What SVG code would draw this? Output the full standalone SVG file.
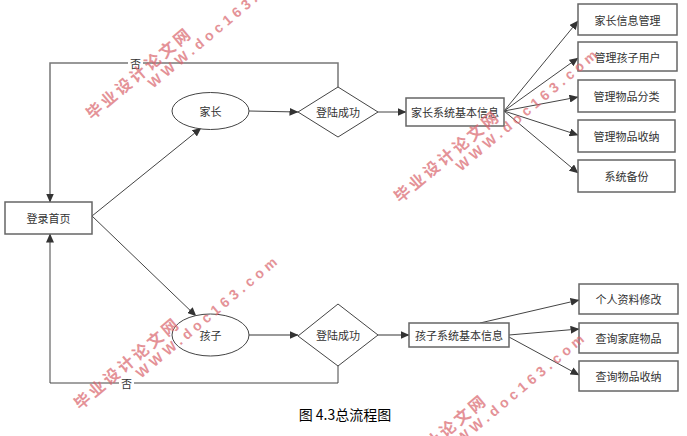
<svg xmlns="http://www.w3.org/2000/svg" xmlns:xlink="http://www.w3.org/1999/xlink" width="687" height="436" viewBox="0 0 687 436">
<style>
.box{fill:#fff;stroke:#666;stroke-width:1.5}
.shape{fill:#fff;stroke:#444;stroke-width:1}
.t{font-family:"Noto Sans CJK SC","Noto Sans CJK JP",sans-serif;font-size:11px;fill:#333;text-anchor:middle;dominant-baseline:central}
.c{stroke:#444;stroke-width:1;fill:none}
.g{stroke:#777;stroke-width:1.5;fill:none}
.wmc{font-family:"Noto Sans CJK SC",sans-serif;font-size:16px;font-weight:bold;fill:#d9646c}
.wme{font-family:"Liberation Sans",sans-serif;font-size:14px;font-weight:bold;fill:#d9646c}
</style>
<defs>
<marker id="ah" markerWidth="9" markerHeight="8" refX="8.5" refY="4" orient="auto" markerUnits="userSpaceOnUse">
<path d="M0,0 L9,4 L0,8 Z" fill="#333"/>
</marker>
<g id="wm" opacity="0.7">
<text class="wmc" x="-9" y="6" textLength="130" lengthAdjust="spacing">毕业设计论文网</text>
<text class="wme" x="58" y="21" textLength="179" lengthAdjust="spacing">WWW.doc163.com</text>
</g>
</defs>
<rect width="687" height="436" fill="#fff"/>

<g id="connectors">
<polyline class="g" points="338,87 338,63 50,63 50,202" marker-end="url(#ah)"/>
<polyline class="c" points="338,366 338,383 50,383 50,234" marker-end="url(#ah)"/>
<line class="c" x1="92" y1="216" x2="201" y2="128" marker-end="url(#ah)"/>
<line class="c" x1="92" y1="216" x2="196" y2="316" marker-end="url(#ah)"/>
<line class="c" x1="249" y1="111" x2="298" y2="112" marker-end="url(#ah)"/>
<line class="c" x1="378" y1="112" x2="406" y2="112" marker-end="url(#ah)"/>
<line class="c" x1="504" y1="111" x2="578" y2="21" marker-end="url(#ah)"/>
<line class="c" x1="504" y1="111" x2="578" y2="58" marker-end="url(#ah)"/>
<line class="c" x1="504" y1="111" x2="578" y2="97" marker-end="url(#ah)"/>
<line class="c" x1="504" y1="111" x2="578" y2="135" marker-end="url(#ah)"/>
<line class="c" x1="504" y1="111" x2="578" y2="173" marker-end="url(#ah)"/>
<line class="g" x1="249" y1="335" x2="298" y2="335" marker-end="url(#ah)"/>
<line class="g" x1="378" y1="335" x2="409" y2="335" marker-end="url(#ah)"/>
<line class="c" x1="480" y1="323" x2="579" y2="300" marker-end="url(#ah)"/>
<line class="c" x1="509" y1="335" x2="579" y2="329" marker-end="url(#ah)"/>
<line class="c" x1="509" y1="337" x2="579" y2="375" marker-end="url(#ah)"/>
<rect x="128" y="56" width="15" height="14" fill="#fff"/>
<text class="t" x="135.5" y="63">否</text>
<rect x="119" y="376" width="15" height="14" fill="#fff"/>
<text class="t" x="126.5" y="383">否</text>
</g>

<g id="login"><rect class="box" x="5" y="202" width="87" height="32"/><text class="t" x="48.5" y="218">登录首页</text></g>
<g id="parent"><ellipse class="shape" cx="210.5" cy="111" rx="38.5" ry="18.5"/><text class="t" x="210.5" y="111">家长</text></g>
<g id="child"><ellipse class="shape" cx="210.5" cy="335" rx="38.5" ry="21"/><text class="t" x="210.5" y="335">孩子</text></g>
<g id="login-ok-1"><polygon class="shape" points="298,112 338,87 378,112 338,137"/><text class="t" x="338" y="112">登陆成功</text></g>
<g id="login-ok-2"><polygon class="shape" points="298,336 338,304 378,335 338,366"/><text class="t" x="338" y="335">登陆成功</text></g>
<g id="parent-sys"><rect class="box" x="406" y="98" width="98" height="28"/><text class="t" x="455" y="112">家长系统基本信息</text></g>
<g id="child-sys"><rect class="box" x="409" y="323" width="100" height="24"/><text class="t" x="459" y="335">孩子系统基本信息</text></g>
<g id="p1"><rect class="box" x="578" y="4" width="99" height="31"/><text class="t" x="627.5" y="19.5">家长信息管理</text></g>
<g id="p2"><rect class="box" x="578" y="42" width="99" height="29"/><text class="t" x="627.5" y="56.5">管理孩子用户</text></g>
<g id="p3"><rect class="box" x="578" y="80" width="97" height="32"/><text class="t" x="626.5" y="96">管理物品分类</text></g>
<g id="p4"><rect class="box" x="578" y="120" width="97" height="32"/><text class="t" x="626.5" y="136">管理物品收纳</text></g>
<g id="p5"><rect class="box" x="578" y="160" width="97" height="32"/><text class="t" x="626.5" y="176">系统备份</text></g>
<g id="c1"><rect class="box" x="579" y="284" width="99" height="30"/><text class="t" x="628.5" y="299">个人资料修改</text></g>
<g id="c2"><rect class="box" x="579" y="323" width="99" height="30"/><text class="t" x="628.5" y="338">查询家庭物品</text></g>
<g id="c3"><rect class="box" x="579" y="361" width="99" height="30"/><text class="t" x="628.5" y="376">查询物品收纳</text></g>

<text x="345" y="420" font-family="Noto Sans CJK SC,sans-serif" font-size="14" fill="#000" text-anchor="middle">图 4.3总流程图</text>

<g id="watermarks">
<use xlink:href="#wm" transform="translate(95,110) rotate(-40)"/>
<use xlink:href="#wm" transform="translate(403,193) rotate(-40)"/>
<use xlink:href="#wm" transform="translate(83,400) rotate(-40)"/>
<use xlink:href="#wm" transform="translate(390,477) rotate(-40)"/>
</g>
</svg>
